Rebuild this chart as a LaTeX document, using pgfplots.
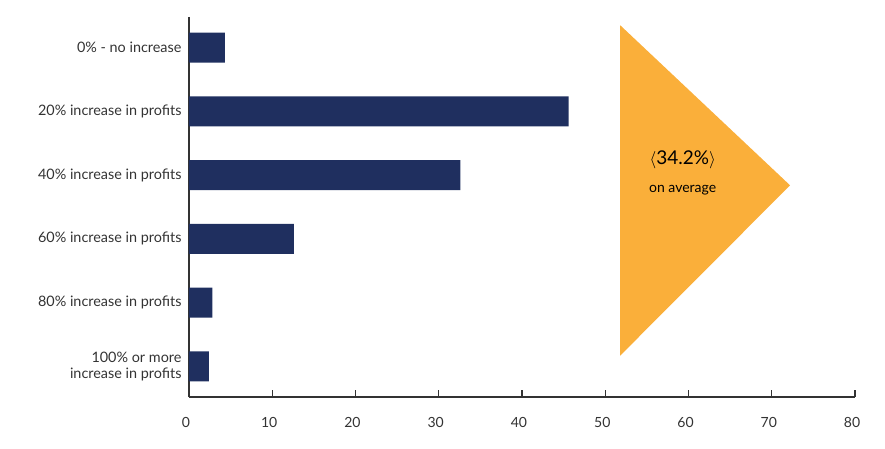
\documentclass[border=0pt]{standalone}
\usepackage{pgfplots}
\pgfplotsset{compat=1.18}
\usepackage{fontspec}
\setmainfont{Lato}
\definecolor{navy}{HTML}{1F2F5F}
\definecolor{amber}{HTML}{FAAF3A}
\definecolor{txt}{HTML}{333333}
\begin{document}
\begin{tikzpicture}
\begin{axis}[
    at={(0,0)}, anchor=south west,
    scale only axis,
    width=666pt, height=380pt,
    xmin=0, xmax=80,
    ymin=-0.48, ymax=5.48,
    y dir=reverse,
    axis lines*=left,
    axis line style={draw=black!80, line width=1.2pt},
    xtick={0,10,...,80},
    ytick={0,1,2,3,4,5},
    yticklabels={
        0\% - no increase,
        20\% increase in profits,
        40\% increase in profits,
        60\% increase in profits,
        80\% increase in profits,
        {100\% or more\\increase in profits}
    },
    tick align=inside,
    major tick length=7pt,
    xtick style={draw=black!80, line width=1.2pt},
    ytick style={draw=none},
    xticklabel style={yshift=-17pt, xshift=-3pt, font=\fontsize{14}{16}\selectfont, text=txt},
    yticklabel style={align=right, font=\fontsize{14.4}{16.5}\selectfont, text=txt, xshift=-4pt},
    /pgf/number format/assume math mode=true,
    clip=false,
]
\addplot[xbar, bar width=30pt, fill=navy, draw=none] coordinates {
    (4.3,0) (45.6,1) (32.6,2) (12.6,3) (2.8,4) (2.4,5)
};
\addplot[fill=amber, draw=none] coordinates {
    (51.8,-0.35) (72.2,2.16) (51.8,4.83)
} -- cycle;
\node[align=center, text=black, font=\fontsize{14}{28}\selectfont] at (axis cs:59.3,1.97)
    {{\fontsize{19}{22}\selectfont $\langle$34.2\%$\rangle$}\\on average};
\end{axis}
\useasboundingbox (-189pt,-52pt) rectangle (696pt,397pt);
\end{tikzpicture}
\end{document}
